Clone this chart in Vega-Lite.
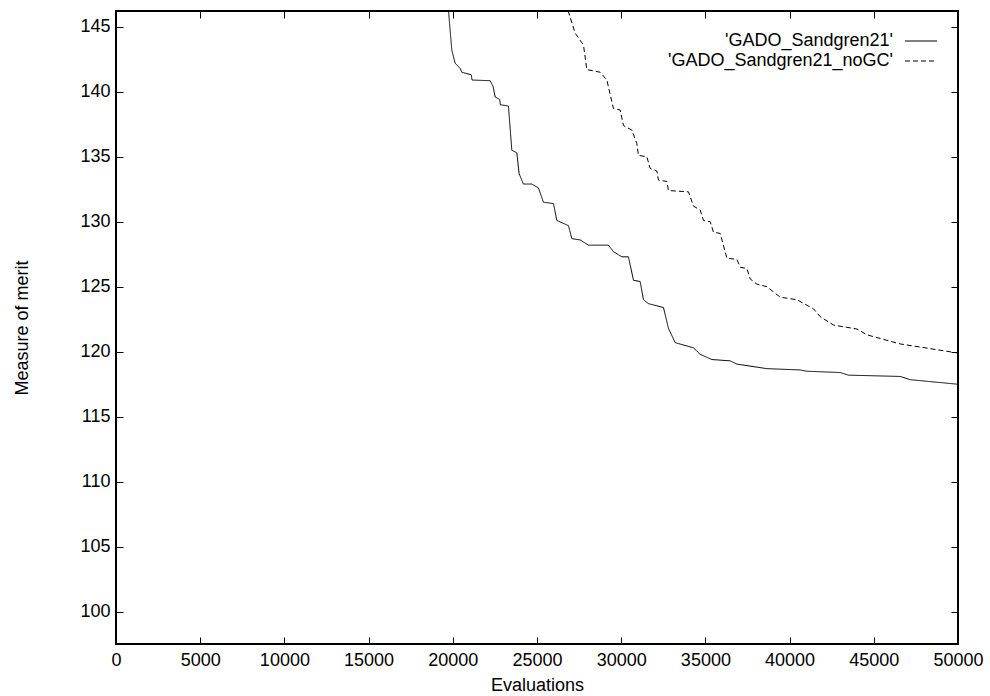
{
  "$schema": "https://vega.github.io/schema/vega-lite/v6.json",
  "width": 842,
  "height": 633,
  "autosize": {"type": "none"},
  "padding": {"left": 116, "top": 11, "right": 32, "bottom": 52},
  "background": "white",
  "config": {
    "font": "Liberation Sans",
    "view": {"stroke": "black", "strokeWidth": 2},
    "axis": {
      "grid": false,
      "domain": false,
      "tickColor": "black",
      "tickWidth": 1,
      "tickSize": -7,
      "labelFont": "Liberation Sans",
      "labelFontSize": 18,
      "labelColor": "black",
      "titleFont": "Liberation Sans",
      "titleFontSize": 18,
      "titleFontWeight": "normal",
      "titleColor": "black"
    }
  },
  "datasets": {
    "curves": [
      {"series": "'GADO_Sandgren21'", "evaluations": 19620, "merit": 148.0},
      {"series": "'GADO_Sandgren21'", "evaluations": 19740, "merit": 146.3},
      {"series": "'GADO_Sandgren21'", "evaluations": 19941, "merit": 143.2},
      {"series": "'GADO_Sandgren21'", "evaluations": 20137, "merit": 142.2},
      {"series": "'GADO_Sandgren21'", "evaluations": 20434, "merit": 141.8},
      {"series": "'GADO_Sandgren21'", "evaluations": 20535, "merit": 141.5},
      {"series": "'GADO_Sandgren21'", "evaluations": 21100, "merit": 141.3},
      {"series": "'GADO_Sandgren21'", "evaluations": 21140, "merit": 140.9},
      {"series": "'GADO_Sandgren21'", "evaluations": 22216, "merit": 140.85},
      {"series": "'GADO_Sandgren21'", "evaluations": 22394, "merit": 140.4},
      {"series": "'GADO_Sandgren21'", "evaluations": 22513, "merit": 139.6},
      {"series": "'GADO_Sandgren21'", "evaluations": 22790, "merit": 139.4},
      {"series": "'GADO_Sandgren21'", "evaluations": 22820, "merit": 139.0},
      {"series": "'GADO_Sandgren21'", "evaluations": 23303, "merit": 138.9},
      {"series": "'GADO_Sandgren21'", "evaluations": 23505, "merit": 135.5},
      {"series": "'GADO_Sandgren21'", "evaluations": 23802, "merit": 135.3},
      {"series": "'GADO_Sandgren21'", "evaluations": 23938, "merit": 133.7},
      {"series": "'GADO_Sandgren21'", "evaluations": 24194, "merit": 132.9},
      {"series": "'GADO_Sandgren21'", "evaluations": 24693, "merit": 132.9},
      {"series": "'GADO_Sandgren21'", "evaluations": 25085, "merit": 132.6},
      {"series": "'GADO_Sandgren21'", "evaluations": 25382, "merit": 131.5},
      {"series": "'GADO_Sandgren21'", "evaluations": 25976, "merit": 131.4},
      {"series": "'GADO_Sandgren21'", "evaluations": 26178, "merit": 130.1},
      {"series": "'GADO_Sandgren21'", "evaluations": 26867, "merit": 129.7},
      {"series": "'GADO_Sandgren21'", "evaluations": 27069, "merit": 128.7},
      {"series": "'GADO_Sandgren21'", "evaluations": 27562, "merit": 128.6},
      {"series": "'GADO_Sandgren21'", "evaluations": 28055, "merit": 128.2},
      {"series": "'GADO_Sandgren21'", "evaluations": 29243, "merit": 128.2},
      {"series": "'GADO_Sandgren21'", "evaluations": 29540, "merit": 127.7},
      {"series": "'GADO_Sandgren21'", "evaluations": 30039, "merit": 127.3},
      {"series": "'GADO_Sandgren21'", "evaluations": 30431, "merit": 127.3},
      {"series": "'GADO_Sandgren21'", "evaluations": 30728, "merit": 125.5},
      {"series": "'GADO_Sandgren21'", "evaluations": 31126, "merit": 125.4},
      {"series": "'GADO_Sandgren21'", "evaluations": 31322, "merit": 124.0},
      {"series": "'GADO_Sandgren21'", "evaluations": 31619, "merit": 123.7},
      {"series": "'GADO_Sandgren21'", "evaluations": 32510, "merit": 123.4},
      {"series": "'GADO_Sandgren21'", "evaluations": 32807, "merit": 121.8},
      {"series": "'GADO_Sandgren21'", "evaluations": 33205, "merit": 120.7},
      {"series": "'GADO_Sandgren21'", "evaluations": 34292, "merit": 120.3},
      {"series": "'GADO_Sandgren21'", "evaluations": 34690, "merit": 119.8},
      {"series": "'GADO_Sandgren21'", "evaluations": 35385, "merit": 119.4},
      {"series": "'GADO_Sandgren21'", "evaluations": 36472, "merit": 119.3},
      {"series": "'GADO_Sandgren21'", "evaluations": 36870, "merit": 119.05},
      {"series": "'GADO_Sandgren21'", "evaluations": 38652, "merit": 118.7},
      {"series": "'GADO_Sandgren21'", "evaluations": 40630, "merit": 118.6},
      {"series": "'GADO_Sandgren21'", "evaluations": 41028, "merit": 118.5},
      {"series": "'GADO_Sandgren21'", "evaluations": 43006, "merit": 118.4},
      {"series": "'GADO_Sandgren21'", "evaluations": 43499, "merit": 118.2},
      {"series": "'GADO_Sandgren21'", "evaluations": 46570, "merit": 118.1},
      {"series": "'GADO_Sandgren21'", "evaluations": 47164, "merit": 117.85},
      {"series": "'GADO_Sandgren21'", "evaluations": 50000, "merit": 117.5},
      {"series": "'GADO_Sandgren21_noGC'", "evaluations": 26430, "merit": 148.0},
      {"series": "'GADO_Sandgren21_noGC'", "evaluations": 26867, "merit": 146.15},
      {"series": "'GADO_Sandgren21_noGC'", "evaluations": 27265, "merit": 144.5},
      {"series": "'GADO_Sandgren21_noGC'", "evaluations": 27758, "merit": 143.6},
      {"series": "'GADO_Sandgren21_noGC'", "evaluations": 27960, "merit": 141.7},
      {"series": "'GADO_Sandgren21_noGC'", "evaluations": 28750, "merit": 141.5},
      {"series": "'GADO_Sandgren21_noGC'", "evaluations": 29148, "merit": 140.9},
      {"series": "'GADO_Sandgren21_noGC'", "evaluations": 29540, "merit": 138.7},
      {"series": "'GADO_Sandgren21_noGC'", "evaluations": 29938, "merit": 138.6},
      {"series": "'GADO_Sandgren21_noGC'", "evaluations": 30134, "merit": 137.4},
      {"series": "'GADO_Sandgren21_noGC'", "evaluations": 30633, "merit": 137.05},
      {"series": "'GADO_Sandgren21_noGC'", "evaluations": 30930, "merit": 136.0},
      {"series": "'GADO_Sandgren21_noGC'", "evaluations": 31025, "merit": 135.1},
      {"series": "'GADO_Sandgren21_noGC'", "evaluations": 31524, "merit": 135.0},
      {"series": "'GADO_Sandgren21_noGC'", "evaluations": 31720, "merit": 134.1},
      {"series": "'GADO_Sandgren21_noGC'", "evaluations": 32118, "merit": 133.9},
      {"series": "'GADO_Sandgren21_noGC'", "evaluations": 32213, "merit": 133.2},
      {"series": "'GADO_Sandgren21_noGC'", "evaluations": 32712, "merit": 133.1},
      {"series": "'GADO_Sandgren21_noGC'", "evaluations": 32807, "merit": 132.4},
      {"series": "'GADO_Sandgren21_noGC'", "evaluations": 33995, "merit": 132.3},
      {"series": "'GADO_Sandgren21_noGC'", "evaluations": 34292, "merit": 131.2},
      {"series": "'GADO_Sandgren21_noGC'", "evaluations": 34690, "merit": 130.9},
      {"series": "'GADO_Sandgren21_noGC'", "evaluations": 34886, "merit": 130.1},
      {"series": "'GADO_Sandgren21_noGC'", "evaluations": 35284, "merit": 130.0},
      {"series": "'GADO_Sandgren21_noGC'", "evaluations": 35480, "merit": 129.2},
      {"series": "'GADO_Sandgren21_noGC'", "evaluations": 35878, "merit": 129.1},
      {"series": "'GADO_Sandgren21_noGC'", "evaluations": 36276, "merit": 127.2},
      {"series": "'GADO_Sandgren21_noGC'", "evaluations": 36870, "merit": 127.1},
      {"series": "'GADO_Sandgren21_noGC'", "evaluations": 37066, "merit": 126.5},
      {"series": "'GADO_Sandgren21_noGC'", "evaluations": 37464, "merit": 126.4},
      {"series": "'GADO_Sandgren21_noGC'", "evaluations": 37660, "merit": 125.6},
      {"series": "'GADO_Sandgren21_noGC'", "evaluations": 38058, "merit": 125.2},
      {"series": "'GADO_Sandgren21_noGC'", "evaluations": 38652, "merit": 125.0},
      {"series": "'GADO_Sandgren21_noGC'", "evaluations": 39442, "merit": 124.2},
      {"series": "'GADO_Sandgren21_noGC'", "evaluations": 40434, "merit": 124.0},
      {"series": "'GADO_Sandgren21_noGC'", "evaluations": 41420, "merit": 123.3},
      {"series": "'GADO_Sandgren21_noGC'", "evaluations": 41818, "merit": 122.7},
      {"series": "'GADO_Sandgren21_noGC'", "evaluations": 42610, "merit": 122.05},
      {"series": "'GADO_Sandgren21_noGC'", "evaluations": 44000, "merit": 121.75},
      {"series": "'GADO_Sandgren21_noGC'", "evaluations": 44594, "merit": 121.3},
      {"series": "'GADO_Sandgren21_noGC'", "evaluations": 45580, "merit": 120.95},
      {"series": "'GADO_Sandgren21_noGC'", "evaluations": 46570, "merit": 120.6},
      {"series": "'GADO_Sandgren21_noGC'", "evaluations": 47562, "merit": 120.4},
      {"series": "'GADO_Sandgren21_noGC'", "evaluations": 50000, "merit": 119.9}
    ]
  },
  "data": {"name": "curves"},
  "layer": [
    {
      "mark": {"type": "line", "clip": true, "color": "black", "strokeWidth": 1},
      "encoding": {
        "x": {
          "field": "evaluations", "type": "quantitative",
          "scale": {"domain": [0, 50000], "nice": false, "zero": false},
          "axis": {
            "orient": "bottom",
            "values": [0, 5000, 10000, 15000, 20000, 25000, 30000, 35000, 40000, 45000, 50000],
            "format": "d",
            "labelFlush": false,
            "labelOverlap": false,
            "labelPadding": 14,
            "title": "Evaluations",
            "titleX": 421,
            "titleY": 46,
            "titleAlign": "center",
            "titleBaseline": "alphabetic"
          }
        },
        "y": {
          "field": "merit", "type": "quantitative",
          "scale": {"domain": [97.52, 146.21], "nice": false, "zero": false},
          "axis": {
            "orient": "left",
            "values": [100, 105, 110, 115, 120, 125, 130, 135, 140, 145],
            "labelPadding": 13,
            "labelFlush": false,
            "labelOverlap": false,
            "title": "Measure of merit",
            "titleX": -89,
            "titleY": 316.5,
            "titleAngle": -90,
            "titleAlign": "center",
            "titleBaseline": "alphabetic"
          }
        },
        "strokeDash": {
          "field": "series", "type": "nominal",
          "scale": {"domain": ["'GADO_Sandgren21'", "'GADO_Sandgren21_noGC'"], "range": [[1, 0], [5, 3]]},
          "legend": {
            "orient": "none",
            "legendX": 796,
            "legendY": 21,
            "title": null,
            "symbolType": "M-2,0H2",
            "symbolSize": 256,
            "symbolStrokeWidth": 1,
            "symbolStrokeColor": "black",
            "symbolFillColor": "transparent",
            "labelFont": "Liberation Sans",
            "labelFontSize": 18,
            "labelColor": "black",
            "labelAlign": "right",
            "labelOffset": -37,
            "labelBaseline": "middle",
            "labelLimit": 0,
            "rowPadding": 2
          }
        }
      }
    },
    {
      "mark": {"type": "line", "clip": true, "opacity": 0},
      "encoding": {
        "x": {
          "field": "evaluations", "type": "quantitative",
          "scale": {"domain": [0, 50000], "nice": false, "zero": false},
          "axis": {
            "orient": "top",
            "values": [0, 5000, 10000, 15000, 20000, 25000, 30000, 35000, 40000, 45000, 50000],
            "labels": false,
            "title": null
          }
        },
        "y": {
          "field": "merit", "type": "quantitative",
          "scale": {"domain": [97.52, 146.21], "nice": false, "zero": false},
          "axis": {
            "orient": "right",
            "values": [100, 105, 110, 115, 120, 125, 130, 135, 140, 145],
            "labels": false,
            "title": null
          }
        },
        "detail": {"field": "series", "type": "nominal"}
      }
    }
  ],
  "resolve": {
    "scale": {"x": "independent", "y": "independent"},
    "axis": {"x": "independent", "y": "independent"}
  }
}
